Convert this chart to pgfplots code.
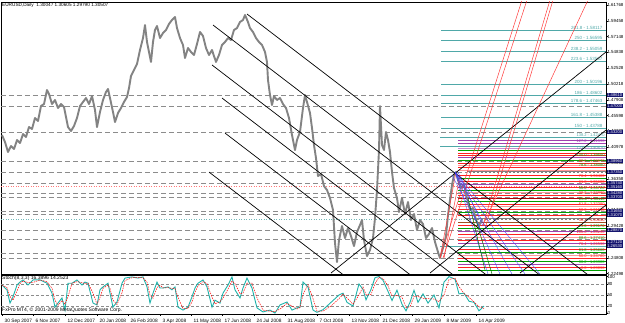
\documentclass[border=0pt]{standalone}
\usepackage{pgfplots}
\pgfplotsset{compat=1.18}
\usepackage{pgfplotstable}
\usepackage{fontspec}
\setmainfont{Liberation Sans}
\definecolor{fibteal}{HTML}{4FA8A8}
\definecolor{navy}{HTML}{14146E}
\definecolor{stochk}{HTML}{20B2AA}
\definecolor{mpurple}{HTML}{A040B0}
\definecolor{mgreen}{HTML}{00A000}
\definecolor{mred}{HTML}{FF2020}
\definecolor{mpink}{HTML}{FF9898}
\definecolor{mbrown}{HTML}{A05020}
\definecolor{mdred}{HTML}{B00000}
\definecolor{dashgray}{HTML}{8C8C8C}
\definecolor{pricegray}{HTML}{838383}
\definecolor{fanred}{HTML}{FF3A3A}
\newcommand\hl[3]{\addplot[#1,line width=0.5pt] coordinates {(#2,#3) (606,#3)};}
\newcommand\dl[1]{\addplot[dashgray,line width=0.6pt,dash pattern=on 5pt off 3pt] coordinates {(1,#1) (606,#1)};}
\newcommand\fl[2]{\addplot[fibteal,line width=0.6pt] coordinates {(441,#1) (606,#1)};
  \node[anchor=south east,inner sep=0.4pt,text=fibteal,font=\fontsize{4.5}{4.7}\selectfont] at (axis cs:603,#1) {#2};}
\newcommand\lb[3]{\node[anchor=south east,inner sep=0.2pt,text=#1,font=\fontsize{4}{4.2}\selectfont] at (axis cs:605,#2) {#3};}

\pgfplotstableread{
x p
2 1.4276
5 1.4174
8 1.4028
11 1.4115
14 1.4072
17 1.4203
20 1.4159
23 1.4291
26 1.4247
29 1.4393
32 1.4364
35 1.4525
38 1.4481
41 1.4700
44 1.4729
47 1.4934
49 1.4876
52 1.4729
55 1.4788
58 1.4671
61 1.4729
64 1.4686
66 1.4539
68 1.4393
71 1.4335
74 1.4408
77 1.4525
80 1.4700
83 1.4759
86 1.4817
89 1.4729
92 1.4846
95 1.4642
97 1.4393
100 1.4612
103 1.4788
106 1.4905
108 1.4949
110 1.4817
113 1.4612
115 1.4466
118 1.4598
121 1.4671
124 1.4759
127 1.4832
129 1.4963
131 1.5139
134 1.5227
137 1.5314
140 1.5519
143 1.5694
145 1.5884
147 1.5636
149 1.5490
151 1.5344
153 1.5636
155 1.5811
157 1.5870
160 1.5694
163 1.5767
166 1.5811
169 1.5899
172 1.5958
175 1.6001
177 1.5840
180 1.5694
183 1.5592
185 1.5402
188 1.5548
191 1.5490
194 1.5446
197 1.5607
200 1.5782
203 1.5724
206 1.5548
209 1.5446
212 1.5519
214 1.5431
216 1.5344
219 1.5446
222 1.5592
225 1.5636
228 1.5694
231 1.5665
234 1.5811
237 1.5840
240 1.5928
243 1.5958
245 1.6031
248 1.5928
250 1.5840
253 1.5782
256 1.5694
259 1.5636
262 1.5592
265 1.5490
267 1.5344
268 1.5080
270 1.4861
272 1.4715
274 1.4846
277 1.4788
280 1.4817
283 1.4729
286 1.4671
289 1.4525
292 1.4276
295 1.4057
297 1.4203
300 1.4320
303 1.4671
305 1.4861
307 1.4759
310 1.4598
312 1.4379
314 1.4130
316 1.3940
318 1.3677
321 1.3706
324 1.3531
327 1.3472
330 1.3355
333 1.3180
335 1.2697
337 1.2420
339 1.2741
342 1.2946
345 1.2770
348 1.2917
351 1.2800
354 1.2653
357 1.2858
360 1.2960
362 1.3034
364 1.2741
367 1.2507
370 1.2595
373 1.2770
375 1.3063
377 1.3472
379 1.4057
380 1.4700
382 1.4130
384 1.4057
386 1.4320
388 1.4203
390 1.4028
392 1.3735
394 1.3501
397 1.3355
399 1.3151
402 1.3355
405 1.3121
408 1.3297
411 1.3034
414 1.3121
417 1.2887
420 1.3034
423 1.2975
426 1.2770
429 1.2829
432 1.2917
435 1.2712
438 1.2566
440 1.2478
443 1.2624
446 1.2800
448 1.3107
450 1.3326
452 1.3545
454 1.3691
456 1.3735
458 1.3618
461 1.3501
464 1.3560
467 1.3355
470 1.3180
473 1.3209
476 1.3034
479 1.2946
482 1.3050
}\pricetab

\pgfplotstableread{
x k d
2 77 77
7 64 70
10 28 46
13 45 36
17 77 61
20 85 81
23 91 88
28 77 84
33 91 84
40 91 91
47 82 86
52 55 68
55 17 36
58 28 22
62 42 35
65 9 25
68 82 45
72 82 82
77 91 86
82 77 84
85 85 81
88 82 83
93 28 55
97 23 25
100 64 43
103 72 68
108 82 77
110 55 68
113 17 36
117 31 24
122 82 56
125 96 89
132 99 97
138 96 97
143 99 97
147 72 85
150 28 50
153 55 41
157 85 70
160 69 77
163 69 69
168 72 70
172 64 68
175 72 68
178 17 44
183 9 13
188 17 13
192 45 31
195 69 57
198 82 75
203 91 86
207 72 81
212 17 44
215 36 26
220 28 32
223 55 41
228 77 66
232 99 88
235 64 81
240 42 53
243 69 55
247 96 82
252 69 82
257 15 42
263 4 9
270 9 6
275 1 5
280 23 12
287 31 27
292 9 20
297 15 12
300 17 16
303 85 51
308 72 78
313 9 40
317 3 6
323 10 6
331 30 20
339 50 40
343 55 52
347 30 42
353 20 25
359 80 50
363 65 72
366 37 51
371 65 51
375 97 81
379 100 98
383 90 95
388 60 75
392 35 47
397 63 49
402 25 44
406 7 16
410 30 18
414 63 46
418 30 46
423 53 41
428 28 40
434 50 39
439 15 32
444 85 50
449 100 92
455 93 96
459 53 73
464 55 54
469 33 44
474 30 31
479 7 18
484 20 13
}\stochtab

\begin{document}
\begin{tikzpicture}[font=\fontsize{5}{6}\selectfont]
\path[use as bounding box] (0,0) rectangle (625pt,323pt);
% ---------------- main price window ----------------
\begin{axis}[at={(1pt,49pt)},anchor=south west,width=605pt,height=272pt,scale only axis,
  xmin=1,xmax=606,ymin=1.2245,ymax=1.62207,clip mode=individual,
  axis line style={black,line width=0.4pt},
  xtick=\empty,
  ytick={1.22498,1.24808,1.27118,1.29428,1.31738,1.34048,1.36358,1.38668,1.40978,1.43288,1.45598,1.47908,1.50218,1.52528,1.54838,1.57148,1.59458,1.61768},
  yticklabel pos=right, ytick pos=right, tick align=outside, major tick length=2pt,
  tick style={black,line width=0.4pt},
  yticklabel style={anchor=west,xshift=-1.2pt,inner sep=0.5pt,font=\fontsize{4.4}{5}\selectfont},
  /pgf/number format/fixed,/pgf/number format/fixed zerofill,/pgf/number format/precision=5,
  /pgf/number format/assume math mode=true]
% dashed horizontal levels
\dl{1.4861}\dl{1.4700}\dl{1.4320}\dl{1.3896}\dl{1.3735}\dl{1.3574}\dl{1.3428}\dl{1.3370}
\dl{1.3165}\dl{1.3121}\dl{1.2887}\dl{1.2756}\dl{1.2551}\dl{1.2478}
\addplot[mred!60,line width=0.5pt,dotted] coordinates {(1,1.3531) (606,1.3531)};
\addplot[fibteal!80,line width=0.5pt,dotted] coordinates {(1,1.3048) (606,1.3048)};
% dense coloured levels
\hl{fibteal}{440}{1.4247}\hl{mpurple}{458}{1.4203}\hl{mpurple}{458}{1.4159}\hl{fibteal}{440}{1.4115}
\hl{mpurple!60}{458}{1.4086}\hl{mgreen}{458}{1.4057}\hl{mred}{458}{1.4013}\hl{mred}{458}{1.3984}
\hl{mpurple}{458}{1.3955}\hl{mgreen}{458}{1.3911}\hl{mred}{458}{1.3867}\hl{mpink}{458}{1.3838}
\hl{mred}{458}{1.3808}\hl{mpink}{458}{1.3764}\hl{mred}{458}{1.3691}\hl{mgreen}{458}{1.3648}
\hl{mred}{458}{1.3604}\hl{mpurple}{458}{1.3560}\hl{mred}{458}{1.3516}\hl{mgreen}{458}{1.3472}
\hl{mpink}{458}{1.3443}\hl{mred}{458}{1.3399}\hl{mdred}{458}{1.3355}\hl{mgreen}{458}{1.3311}
\hl{mred}{458}{1.3267}\hl{mpink}{458}{1.3238}\hl{mred}{458}{1.3194}\hl{mgreen}{458}{1.3151}
\hl{mred}{458}{1.3107}\hl{mbrown}{458}{1.3004}\hl{mred}{458}{1.2960}\hl{mgreen}{458}{1.2917}
\hl{mpurple}{458}{1.2873}\hl{mred}{458}{1.2829}\hl{mpink}{458}{1.2785}\hl{mred}{458}{1.2741}
\hl{mpurple}{458}{1.2697}\hl{fibteal}{440}{1.2653}\hl{mred}{458}{1.2610}\hl{mgreen}{458}{1.2566}
\hl{mpink}{458}{1.2522}\hl{mred}{458}{1.2478}\hl{mgreen}{458}{1.2434}\hl{mpurple}{458}{1.2390}
\hl{mred}{458}{1.2346}\hl{mgreen}{458}{1.2303}
\addplot[gray,line width=2.2pt] coordinates {(467,1.3735) (606,1.3735)};
\addplot[white,line width=0.9pt,dash pattern=on 2pt off 2pt] coordinates {(467,1.3735) (606,1.3735)};
\addplot[gray,line width=2.2pt] coordinates {(467,1.3048) (606,1.3048)};
\addplot[white,line width=0.9pt,dash pattern=on 2pt off 2pt] coordinates {(467,1.3048) (606,1.3048)};
% fibonacci extension levels
\fl{1.58117}{261.8 - 1.58117}
\fl{1.56595}{250 - 1.56595}
\fl{1.55059}{238.2 - 1.55059}
\fl{1.53567}{223.6 - 1.53567}
\fl{1.50196}{200 - 1.50196}
\fl{1.48602}{186 - 1.48602}
\fl{1.47463}{178.6 - 1.47463}
\fl{1.45388}{161.8 - 1.45388}
\fl{1.43788}{150 - 1.43788}
\lb{fibteal}{1.4247}{138.2 - 1.42470}
\lb{mpurple}{1.4159}{127.2 - 1.41590}
\lb{fibteal}{1.4057}{123.6 - 1.40570}
\lb{mgreen}{1.3955}{100.0 - 1.39550}
\lb{mred}{1.3867}{88.6 - 1.38670}
\lb{mgreen}{1.3808}{78.6 - 1.38080}
\lb{mred}{1.3648}{76.4 - 1.36480}
\lb{mred}{1.3560}{61.8 - 1.35600}
\lb{mgreen}{1.3472}{50.0 - 1.34720}
\lb{mred}{1.3399}{38.2 - 1.33990}
\lb{mgreen}{1.3311}{23.6 - 1.33110}
\lb{mred}{1.3238}{61.8 - 1.32380}
\lb{mred}{1.3151}{50.0 - 1.31510}
\lb{mred}{1.3004}{38.2 - 1.30040}
\lb{mgreen}{1.2917}{23.6 - 1.29170}
\lb{mred}{1.2829}{100.0 - 1.28290}
\lb{mgreen}{1.2741}{88.6 - 1.27410}
\lb{mred}{1.2653}{76.4 - 1.26530}
\lb{mgreen}{1.2566}{61.8 - 1.25660}
\lb{mred}{1.2478}{50.0 - 1.24780}
\lb{mgreen}{1.2390}{38.2 - 1.23900}
\lb{mred}{1.2303}{0.0 - 1.23030}
% price
\addplot[pricegray,line width=1.9pt,line join=round] table[x=x,y=p]{\pricetab};
% descending channel lines
\addplot[black,line width=0.7pt] coordinates {(247,1.6045) (606,1.2031)};
\addplot[black,line width=0.7pt] coordinates {(213,1.5884) (606,1.1490)};
\addplot[black,line width=0.7pt] coordinates {(212,1.5300) (606,1.0893)};
\addplot[black,line width=0.7pt] coordinates {(222,1.4817) (606,1.0522)};
\addplot[black,line width=0.7pt] coordinates {(225,1.4305) (606,1.0044)};
\addplot[black,line width=0.7pt] coordinates {(209,1.3735) (606,0.9295)};
% ascending lines
\addplot[black,line width=0.7pt] coordinates {(331,1.2259) (606,1.5490)};
\addplot[black,line width=0.7pt] coordinates {(430,1.2259) (606,1.4349)};
\addplot[black,line width=0.7pt] coordinates {(520,1.2259) (606,1.3253)};
% red fan
\addplot[fanred,line width=0.5pt] coordinates {(440,1.2478) (522,1.62499)};
\addplot[fanred,line width=0.5pt] coordinates {(443,1.2478) (527,1.62499)};
\addplot[fanred,line width=0.5pt] coordinates {(483,1.2960) (550,1.62499)};
\addplot[fanred,line width=0.5pt] coordinates {(486,1.2960) (553,1.62499)};
\addplot[fanred,line width=0.5pt] coordinates {(483,1.2960) (588,1.62499)};
\addplot[fanred,line width=0.5pt] coordinates {(440,1.2478) (456,1.3735)};
\addplot[fanred,line width=0.5pt] coordinates {(444,1.2478) (460,1.3691)};
% blue fan
\addplot[blue!75,line width=0.35pt] coordinates {(455,1.3735) (488,1.2245)};
\addplot[blue!75,line width=0.35pt] coordinates {(455,1.3735) (500,1.2245)};
\addplot[blue!75,line width=0.35pt] coordinates {(455,1.3735) (512,1.2245)};
\addplot[blue!75,line width=0.35pt] coordinates {(455,1.3735) (525,1.2245)};
\addplot[blue!75,line width=0.35pt] coordinates {(455,1.3735) (540,1.2245)};
\addplot[blue!75,line width=0.35pt] coordinates {(458,1.3735) (483,1.2946)};
\addplot[blue!75,line width=0.35pt] coordinates {(452,1.3691) (480,1.2917)};
\addplot[mgreen!70!black,line width=0.5pt] coordinates {(476,1.3034) (492,1.2245)};
\addplot[mgreen!70!black,line width=0.5pt] coordinates {(468,1.3355) (485,1.2303)};
% title
\node[anchor=north west,inner sep=1pt,font=\fontsize{4.7}{5}\selectfont] at (rel axis cs:0,1) {EURUSD,Daily\ \ 1.30047 1.30605 1.29790 1.30507};
% anchors for price labels
\coordinate (n1) at (axis cs:606.5,1.4861);
\coordinate (n2) at (axis cs:606.5,1.4700);
\coordinate (n3) at (axis cs:606.5,1.4320);
\coordinate (n4) at (axis cs:606.5,1.3896);
\coordinate (n5) at (axis cs:606.5,1.3735);
\coordinate (n6) at (axis cs:606.5,1.3574);
\coordinate (n7) at (axis cs:606.5,1.3516);
\coordinate (n8) at (axis cs:606.5,1.3428);
\coordinate (n9) at (axis cs:606.5,1.3370);
\coordinate (n10) at (axis cs:606.5,1.3165);
\coordinate (n11) at (axis cs:606.5,1.3107);
\coordinate (n12) at (axis cs:606.5,1.2887);
\coordinate (n13) at (axis cs:606.5,1.2712);
\coordinate (n14) at (axis cs:606.5,1.2653);
\end{axis}
\foreach \n/\t in {n1/1.48610,n2/1.47000,n3/1.43200,n4/1.38960,n5/1.37350,n6/1.35740,n7/1.35160,n8/1.34280,n9/1.33700,n10/1.31650,n11/1.31070,n12/1.28870,n13/1.27120,n14/1.26530}
  \node[anchor=west,fill=navy,text=white,inner sep=0.6pt,font=\fontsize{4.1}{4.5}\selectfont] at (\n) {\t};
% ---------------- stochastic window ----------------
\begin{axis}[at={(1pt,9pt)},anchor=south west,width=605pt,height=39pt,scale only axis,
  xmin=1,xmax=606,ymin=-1.6,ymax=104.3,clip mode=individual,
  axis line style={black,line width=0.4pt},
  ytick={0,20,50,80,100}, yticklabel pos=right, ytick pos=right,
  yticklabels={0,20,50,80,100},
  yticklabel style={anchor=west,xshift=-1.2pt,inner sep=0.5pt,font=\fontsize{4.4}{5}\selectfont},
  xtick={2,33,65,97,128,160,191,222,254,285,317,349,380,412,444,476},
  xticklabels={30 Sep 2007,6 Nov 2007,12 Dec 2007,20 Jan 2008,26 Feb 2008,3 Apr 2008,11 May 2008,17 Jun 2008,24 Jul 2008,31 Aug 2008,7 Oct 2008,13 Nov 2008,21 Dec 2008,29 Jan 2009,8 Mar 2009,14 Apr 2009},
  xtick pos=bottom, tick align=outside, major tick length=2pt,
  tick style={black,line width=0.4pt},
  xticklabel style={anchor=north west,xshift=-0.8pt,yshift=0.8pt,text height=3.6pt,text depth=1pt,font=\fontsize{4.8}{5}\selectfont}]
\addplot[dashgray,line width=0.5pt,dash pattern=on 3pt off 2pt] coordinates {(1,80) (606,80)};
\addplot[dashgray,line width=0.5pt,dash pattern=on 3pt off 2pt] coordinates {(1,50) (606,50)};
\addplot[dashgray,line width=0.5pt,dash pattern=on 3pt off 2pt] coordinates {(1,20) (606,20)};
\addplot[stochk,line width=0.9pt] table[x=x,y=k]{\stochtab};
\addplot[red,line width=0.5pt,dash pattern=on 1.5pt off 1pt] table[x=x,y=d]{\stochtab};
\node[anchor=north west,inner sep=1pt] at (rel axis cs:0,1) {Stoch(8,3,3) 16.3896 14.2523};
\node[anchor=south west,inner sep=1pt] at (rel axis cs:0,0) {FxPro MT4, © 2001-2009 MetaQuotes Software Corp.};
\end{axis}
\end{tikzpicture}
\end{document}
